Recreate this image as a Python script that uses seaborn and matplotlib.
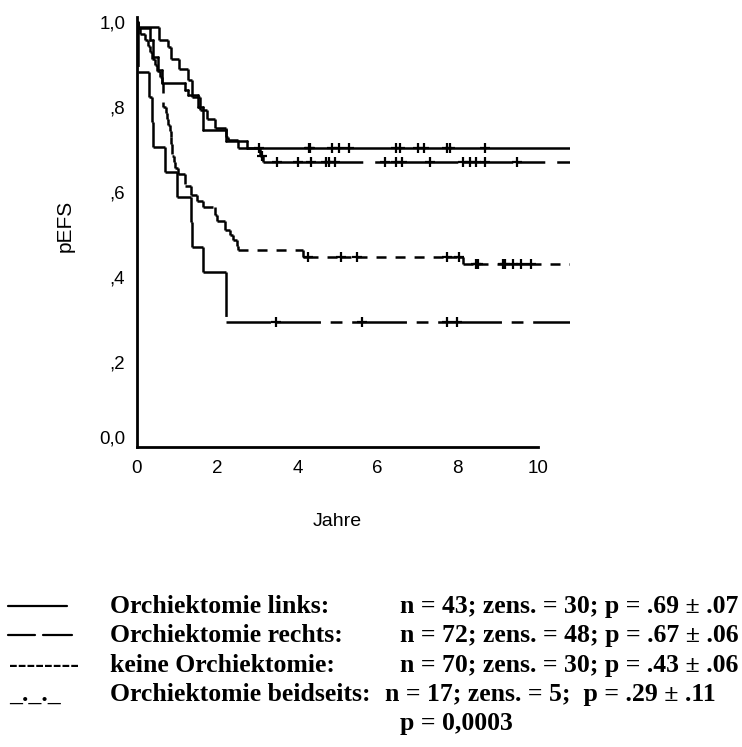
import numpy as np
import pandas as pd
import matplotlib
matplotlib.use("Agg")
import matplotlib.pyplot as plt
import seaborn as sns
from matplotlib.transforms import ScaledTranslation
from matplotlib.lines import Line2D

# ---- Kaplan-Meier step data (time in years, event-free survival) ----
links_t = [0.0, 0.02, 0.32, 0.41, 0.53, 0.62, 1.20, 1.28, 1.53, 1.65, 2.22, 2.75]
links_s = [1.0, 0.985, 0.958, 0.918, 0.887, 0.856, 0.840, 0.828, 0.800, 0.746, 0.720, 0.703]
links_cens = [3.05, 4.28, 4.32, 4.87, 5.03, 5.30, 6.45, 6.55, 7.02, 7.16, 7.73, 7.81, 8.68]

rechts_t = [0.0, 0.02, 0.56, 0.78, 0.86, 1.05, 1.28, 1.36, 1.57, 1.74, 1.95, 2.22, 2.28, 2.53, 3.07, 3.15]
rechts_s = [1.0, 0.989, 0.959, 0.942, 0.912, 0.889, 0.864, 0.824, 0.793, 0.773, 0.750, 0.730, 0.722, 0.703, 0.685, 0.671]
rechts_cens = [3.13, 3.49, 4.02, 4.33, 4.71, 4.80, 4.95, 6.18, 6.47, 6.60, 7.31, 8.14, 8.30, 8.45, 8.68, 9.47]

keine_t = [0.0, 0.03, 0.08, 0.20, 0.28, 0.33, 0.37, 0.45, 0.49, 0.57, 0.62, 0.66,
           0.72, 0.74, 0.78, 0.82, 0.84, 0.86, 0.88, 0.92, 0.95, 1.03, 1.20, 1.35, 1.50, 1.65,
           1.95, 2.00, 2.19, 2.32, 2.40, 2.49, 2.53, 4.15, 8.12]
keine_s = [1.0, 0.986, 0.971, 0.957, 0.943, 0.929, 0.914, 0.900, 0.886, 0.871, 0.857, 0.800,
           0.786, 0.771, 0.757, 0.743, 0.729, 0.714, 0.686, 0.671, 0.657, 0.643, 0.614, 0.593, 0.579, 0.564,
           0.545, 0.533, 0.511, 0.498, 0.486, 0.474, 0.463, 0.447, 0.431]
keine_cens = [4.27, 5.10, 5.48, 7.72, 8.03, 8.45, 8.50, 9.13, 9.18, 9.38, 9.59, 9.82]

beids_t = [0.0, 0.03, 0.31, 0.37, 0.41, 0.70, 1.00, 1.34, 1.38, 1.65, 2.22]
beids_s = [1.0, 0.882, 0.824, 0.765, 0.706, 0.647, 0.588, 0.529, 0.471, 0.412, 0.294]
beids_cens = [3.47, 5.60, 7.74, 7.98]

t_end = 10.8

groups = ["links", "rechts", "keine", "beidseits"]
curves = {
    "links": (links_t, links_s, links_cens),
    "rechts": (rechts_t, rechts_s, rechts_cens),
    "keine": (keine_t, keine_s, keine_cens),
    "beidseits": (beids_t, beids_s, beids_cens),
}

legend_names = ["Orchiektomie links:", "Orchiektomie rechts:",
                "keine Orchiektomie:", "Orchiektomie beidseits:"]
legend_stats = ["n = 43; zens. = 30; p = .69 \u00b1 .07",
                "n = 72; zens. = 48; p = .67 \u00b1 .06",
                "n = 70; zens. = 30; p = .43 \u00b1 .06",
                "n = 17; zens. = 5;  p = .29 \u00b1 .11"]
p_total = "p = 0,0003"

x_ticks = [0, 2, 4, 6, 8, 10]
y_ticks = [0.0, 0.2, 0.4, 0.6, 0.8, 1.0]
y_ticklabels = ["0,0", ",2", ",4", ",6", ",8", "1,0"]


def step_pieces(t, s, cens, end):
    """Split a KM step curve into separate segments; the dash pattern
    restarts at every step corner and at every censoring mark."""
    tt = list(t) + [end]
    out = []
    for i in range(len(s)):
        cuts = [tt[i]] + sorted(c for c in cens if tt[i] < c < tt[i + 1]) + [tt[i + 1]]
        for a, b in zip(cuts[:-1], cuts[1:]):
            out.append(((a, s[i]), (b, s[i])))
        if i + 1 < len(s):
            out.append(((tt[i + 1], s[i]), (tt[i + 1], s[i + 1])))
    return out


# ---- tidy frames ----
line_rows, cens_rows = [], []
piece_id = 0
for g in groups:
    t, s, c = curves[g]
    for (x0, y0), (x1, y1) in step_pieces(t, s, c, t_end):
        line_rows.append((g, piece_id, x0, y0))
        line_rows.append((g, piece_id, x1, y1))
        piece_id += 1
    t_arr, s_arr = np.asarray(t), np.asarray(s)
    for ci in c:
        idx = np.searchsorted(t_arr, ci, side="right") - 1
        cens_rows.append((g, ci, s_arr[idx]))
lines_df = pd.DataFrame(line_rows, columns=["group", "piece", "t", "s"])
cens_df = pd.DataFrame(cens_rows, columns=["group", "t", "s"])

# ---- figure ----
sns.set_theme(style="white")
plt.rcParams["font.family"] = ["Liberation Sans", "DejaVu Sans"]
plt.rcParams["lines.scale_dashes"] = False
for key in ("text.color", "axes.labelcolor", "xtick.color", "ytick.color"):
    plt.rcParams[key] = "black"

W, H = 742, 747
fig = plt.figure(figsize=(W / 100, H / 100), dpi=100)
ax = fig.add_axes([137 / W, 1 - 447 / H, 433 / W, 430 / H])

dash_map = {"links": "", "rechts": (20, 8.6), "keine": (7.2, 6.5), "beidseits": (32, 7, 8.5, 7)}
sns.lineplot(data=lines_df, x="t", y="s", style="group", style_order=groups,
             units="piece", dashes=dash_map, color="black", linewidth=1.8,
             estimator=None, sort=False, legend=False, ax=ax)
sns.scatterplot(data=cens_df, x="t", y="s", marker="+", color="black", s=48,
                linewidth=1.6, legend=False, ax=ax, zorder=3)

ax.set_xlim(0, t_end)
ax.set_ylim(0, 1.012)
ax.set_xlabel("")
ax.set_ylabel("")
for side in ("top", "right"):
    ax.spines[side].set_visible(False)
for side in ("left", "bottom"):
    ax.spines[side].set_color("black")
    ax.spines[side].set_linewidth(2)
ax.spines["bottom"].set_bounds(0, 10)
ax.set_xticks(x_ticks)
ax.set_xticklabels([str(v) for v in x_ticks], fontsize=13.5)
ax.set_yticks(y_ticks)
ax.set_yticklabels(y_ticklabels, fontsize=13.5)
ax.tick_params(axis="x", direction="out", length=3, width=2, color="black", pad=6.5)
ax.tick_params(axis="y", length=0, pad=8.5)
# lift the "0,0" label clear of the x tick labels
lab0 = ax.get_yticklabels()[0]
lab0.set_transform(lab0.get_transform() + ScaledTranslation(0, 10 / 100, fig.dpi_scale_trans))

fig.text(337 / W, 1 - 522 / H, "Jahre", ha="center", va="center", fontsize=14)
fig.text(65 / W, 1 - 226 / H, "pEFS", ha="center", va="center", rotation=90, fontsize=15)

# ---- text legend ----
serif = dict(family=["Liberation Serif", "DejaVu Serif"], weight="bold", fontsize=18.5,
             va="baseline", color="black")
baselines = [613, 642, 672, 701]
for i, (name, stat) in enumerate(zip(legend_names, legend_stats)):
    yb = 1 - baselines[i] / H
    fig.text(110 / W, yb, name, ha="left", **serif)
    fig.text((385 if i == 3 else 400) / W, yb, stat, ha="left", **serif)
fig.text(400 / W, 1 - 730 / H, p_total, ha="left", **serif)

# line samples
for xs, y in (([8, 67], 606), ([8, 35], 635), ([43, 72], 635)):
    fig.add_artist(Line2D([xs[0] / W, xs[1] / W], [1 - y / H] * 2, color="black", lw=1.6,
                          transform=fig.transFigure))
fig.text(9 / W, 1 - baselines[2] / H, "--------", ha="left", **serif)
fig.text(9 / W, 1 - baselines[3] / H, "_._._", ha="left", **serif)

fig.savefig("out.png", dpi=100, facecolor="white")
